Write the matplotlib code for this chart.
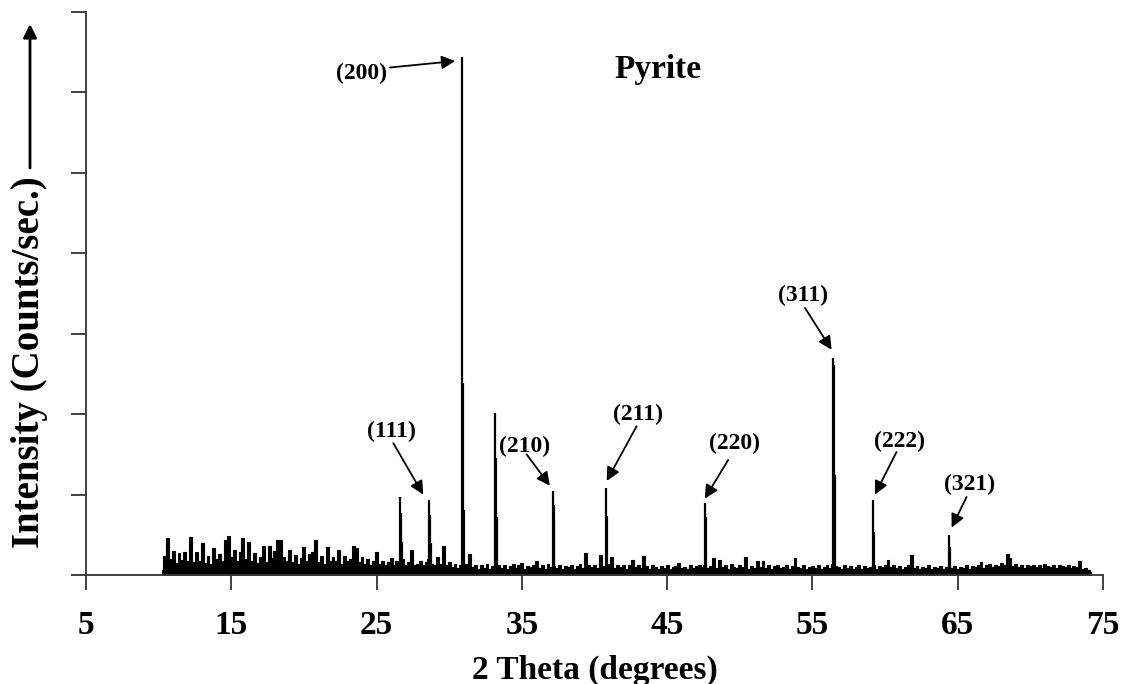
import numpy as np
import matplotlib
matplotlib.use("Agg")
import matplotlib.pyplot as plt

plt.rcParams['font.family'] = ['Liberation Serif', 'DejaVu Serif']
plt.rcParams['font.weight'] = 'bold'

# background counts, one value every 0.2 degrees starting at 10.2
noise_start = 10.2
noise_step = 0.2
noise = [
    6, 24, 46, 20, 30, 15, 27, 19, 29, 17,      # 10.2 - 12.0
    47, 16, 28, 18, 40, 15, 24, 14, 34, 20,     # 12.2 - 14.0
    26, 18, 44, 49, 22, 31, 17, 28, 46, 20,     # 14.2 - 16.0
    41, 18, 27, 15, 23, 36, 16, 36, 21, 30,     # 16.2 - 18.0
    44, 43, 22, 18, 31, 16, 25, 14, 21, 35,     # 18.2 - 20.0
    18, 26, 28, 43, 16, 24, 14, 35, 18, 22,     # 20.2 - 22.0
    17, 31, 14, 24, 18, 20, 36, 34, 16, 23,     # 22.2 - 24.0
    14, 20, 12, 18, 29, 14, 18, 12, 16, 21,     # 24.2 - 26.0
    12, 18, 14, 20, 12, 16, 31, 12, 14, 18,     # 26.2 - 28.0
    12, 16, 20, 14, 12, 22, 14, 36, 12, 16,     # 28.2 - 30.0
    10, 14, 9, 12, 8, 14, 26, 10, 13, 8,        # 30.2 - 32.0
    12, 9, 14, 8, 11, 10, 13, 9, 12, 8,         # 32.2 - 34.0
    11, 14, 9, 12, 15, 8, 11, 10, 13, 17,       # 34.2 - 36.0
    9, 12, 8, 14, 10, 11, 9, 13, 8, 11,         # 36.2 - 38.0
    10, 12, 8, 11, 14, 9, 27, 12, 10, 13,       # 38.2 - 40.0
    9, 25, 11, 10, 14, 22, 9, 12, 10, 13,       # 40.2 - 42.0
    8, 12, 19, 10, 13, 9, 24, 11, 8, 12,        # 42.2 - 44.0
    10, 8, 11, 9, 12, 8, 10, 11, 15, 9,         # 44.2 - 46.0
    10, 8, 12, 9, 11, 13, 10, 12, 9, 11,        # 46.2 - 48.0
    21, 9, 19, 10, 12, 8, 14, 10, 9, 12,        # 48.2 - 50.0
    10, 22, 8, 11, 9, 17, 10, 18, 9, 12,        # 50.2 - 52.0
    8, 11, 13, 9, 10, 12, 8, 11, 21, 10,        # 52.2 - 54.0
    9, 12, 8, 10, 11, 9, 13, 8, 10, 12,         # 54.2 - 56.0
    9, 14, 11, 10, 8, 12, 9, 11, 8, 10,         # 56.2 - 58.0
    12, 8, 11, 9, 10, 12, 8, 11, 10, 13,        # 58.2 - 60.0
    19, 10, 12, 9, 11, 8, 10, 12, 25, 9,        # 60.2 - 62.0
    11, 8, 10, 9, 12, 8, 10, 9, 11, 8,          # 62.2 - 64.0
    10, 12, 9, 11, 8, 10, 9, 12, 8, 11,         # 64.2 - 66.0
    10, 13, 16, 9, 12, 14, 10, 13, 11, 15,      # 66.2 - 68.0
    12, 26, 21, 11, 14, 10, 13, 9, 12, 11,      # 68.2 - 70.0
    13, 10, 12, 9, 14, 11, 10, 13, 9, 12,       # 70.2 - 72.0
    11, 10, 13, 9, 11, 10, 17, 8, 9, 6,         # 72.2 - 74.0
    4,                                          # 74.2
]

# reflection sticks (2 theta, counts)
peak_pos = [26.62, 26.68, 26.74, 28.62, 28.68, 28.74,
            30.90, 30.96, 31.02, 33.15, 33.21, 33.27,
            37.12, 37.18, 37.24, 40.82, 40.88, 47.62, 47.68,
            56.40, 56.46, 56.52, 59.20, 59.26, 64.40, 64.46]
peak_int = [97, 77, 41, 93, 75, 40,
            644, 239, 81, 201, 145, 72,
            105, 87, 66, 108, 73, 90, 72,
            270, 261, 124, 93, 54, 50, 35]

labels = ['(111)', '(200)', '(210)', '(211)', '(220)', '(311)', '(222)', '(321)']
label_xy = [(26.04, 178), (23.93, 624), (35.21, 160), (43.01, 199),
            (49.67, 163), (54.35, 348), (61.02, 166), (65.84, 112)]
arrow_from = [(26.15, 164), (25.92, 631), (35.33, 150), (42.90, 185),
              (49.20, 143), (54.49, 332), (60.79, 153), (65.61, 97)]
arrow_to = [(28.21, 100), (30.40, 639), (36.93, 111), (40.84, 117),
            (47.59, 95), (56.32, 280), (59.30, 100), (64.58, 59)]

x_ticks = [5, 15, 25, 35, 45, 55, 65, 75]
y_ticks = [0, 100, 200, 300, 400, 500, 600, 700]

fig = plt.figure(figsize=(11.28, 6.84), dpi=100)
ax = fig.add_axes([86 / 1128, 1 - 575 / 684, (1103 - 86) / 1128, (575 - 12) / 684])

nx = noise_start + noise_step * np.arange(len(noise))
ax.fill_between(nx, noise, 0, step='mid', color='black', lw=0)
ax.plot(nx, noise, drawstyle='steps-mid', color='black', lw=0.8)
ax.vlines(peak_pos, 0, peak_int, color='black', lw=1.6)

for lab, txy, a0, a1 in zip(labels, label_xy, arrow_from, arrow_to):
    ax.text(txy[0], txy[1], lab, fontsize=17, fontweight='bold',
            ha='center', va='center')
    ax.annotate('', xy=a1, xytext=a0,
                arrowprops=dict(arrowstyle='-|>', color='black', lw=1.3,
                                mutation_scale=20, shrinkA=0, shrinkB=0))

ax.text(44.37, 628, 'Pyrite', fontsize=24, fontweight='bold', ha='center', va='center')

ax.set_xlim(5, 75)
ax.set_ylim(0, 700)
ax.set_xticks(x_ticks)
ax.set_xticklabels([str(t) for t in x_ticks], fontsize=24, fontweight='bold')
ax.set_yticks(y_ticks)
ax.set_yticklabels([])
ax.tick_params(axis='both', direction='out', length=11, width=1.3, color='#333333')
ax.tick_params(axis='x', pad=14)
for side in ['top', 'right']:
    ax.spines[side].set_visible(False)
for side in ['left', 'bottom']:
    ax.spines[side].set_linewidth(1.3)
    ax.spines[side].set_color('#333333')

ax.set_xlabel('2 Theta (degrees)', fontsize=24, fontweight='bold', labelpad=10)

fig.text(30 / 1128, 1 - 362 / 684, 'Intensity (Counts/sec.)', rotation=90,
         fontsize=28, fontweight='bold', ha='center', va='center')
ax.annotate('', xy=(30 / 1128, 1 - 24 / 684), xytext=(30 / 1128, 1 - 168 / 684),
            xycoords='figure fraction', textcoords='figure fraction',
            arrowprops=dict(arrowstyle='-|>', color='black', lw=2,
                            mutation_scale=20, shrinkA=0, shrinkB=0),
            annotation_clip=False)

fig.savefig('out.png', dpi=100)
